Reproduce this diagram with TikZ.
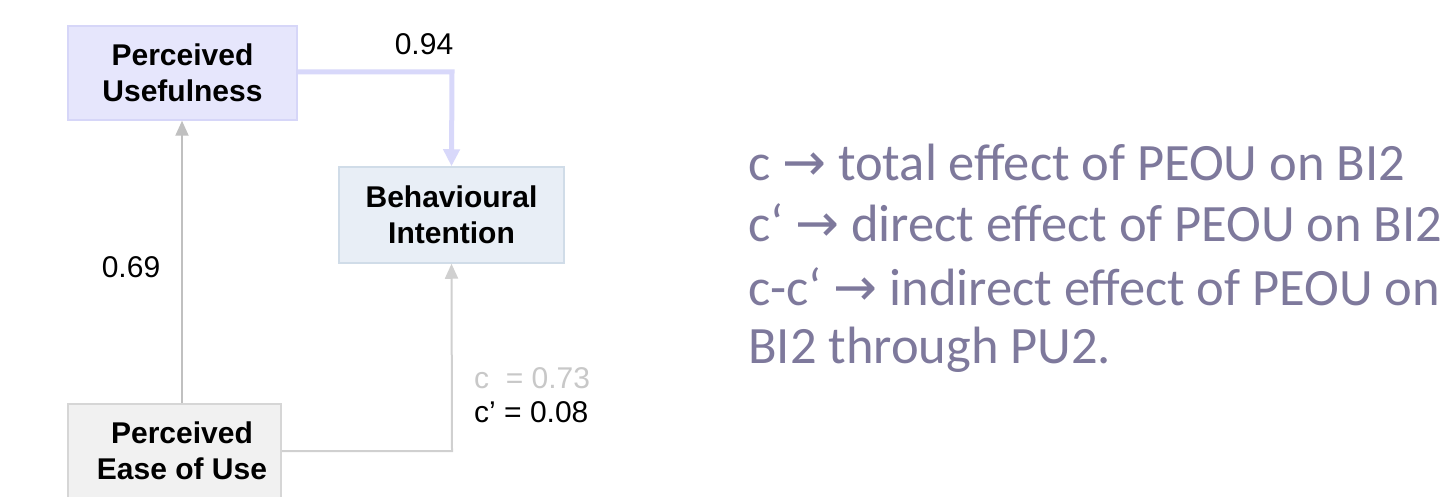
\documentclass[tikz,border=0pt]{standalone}
\usepackage{fontspec}
\setmainfont{Liberation Sans}
\newfontfamily\notefont{Carlito}
\newfontfamily\arrowfont{DejaVu Sans}
\usetikzlibrary{arrows.meta,positioning}
\definecolor{puFill}{RGB}{230,230,252}
\definecolor{puDraw}{RGB}{214,214,248}
\definecolor{biFill}{RGB}{232,238,246}
\definecolor{biDraw}{RGB}{208,220,232}
\definecolor{peFill}{RGB}{241,241,241}
\definecolor{peDraw}{RGB}{214,214,214}
\definecolor{lavLine}{RGB}{216,216,250}
\definecolor{grayLine}{RGB}{192,192,192}
\definecolor{lightLine}{RGB}{208,208,208}
\definecolor{cGray}{RGB}{200,200,200}
\definecolor{noteCol}{RGB}{126,121,156}
\tikzset{
  box/.style={draw, line width=1.5pt, inner sep=0pt, align=center,
    font=\fontsize{30}{36}\selectfont\bfseries},
  lbl/.style={font=\fontsize{30}{34}\selectfont, inner sep=0pt},
  note/.style={font=\fontsize{52.5}{63}\selectfont\notefont, text=noteCol, inner sep=0pt, anchor=west},
}
\begin{document}
\begin{tikzpicture}[x=1pt,y=-1pt]
\useasboundingbox[fill=white] (0,0) rectangle (1447,497);
\node[box, fill=puFill, draw=puDraw, minimum width=229pt, minimum height=94pt] (pu) at (182.5,73) {Perceived\\Usefulness};
\node[box, fill=biFill, draw=biDraw, minimum width=225pt, minimum height=96pt] (bi) at (451.5,215) {Behavioural\\Intention};
\node[box, fill=peFill, draw=peDraw, minimum width=213pt, minimum height=94pt] (pe) at (174.5,451) {\hspace*{15pt}Perceived\\\hspace*{15pt}Ease of Use};
\coordinate (k1) at (452,72);
\coordinate (k2) at (452,451);
\draw[lavLine, line width=5pt, -{Triangle[width=16pt,length=17pt]}] (pu.east |- k1) -- (k1) -- (bi.north);
\draw[grayLine, line width=2pt, -{Triangle[width=13pt,length=15pt]}] (pe.north -| 182,0) -- (pu.south -| 182,0);
\draw[lightLine, line width=2pt, -{Triangle[width=13pt,length=15pt]}] (pe.east |- k2) -- (k2) -- (bi.south);
\node[lbl] (l94) at (424,44) {0.94};
\node[lbl] (l69) at (131,267) {0.69};
\node[lbl, anchor=west, text=cGray] (lc) at (474,378) {c\ \ = 0.73};
\node[lbl, anchor=west] (lcp) at (474,412) {c’ = 0.08};
\node[note] (n1) at (748,162) {c {\arrowfont→} total effect of PEOU on BI2};
\node[note] (n2) at (748,223) {c‘ {\arrowfont→} direct effect of PEOU on BI2};
\node[note] (n3) at (748,287) {c-c‘ {\arrowfont→} indirect effect of PEOU on};
\node[note] (n4) at (748,350) {BI2 through PU2.};
\end{tikzpicture}
\end{document}
